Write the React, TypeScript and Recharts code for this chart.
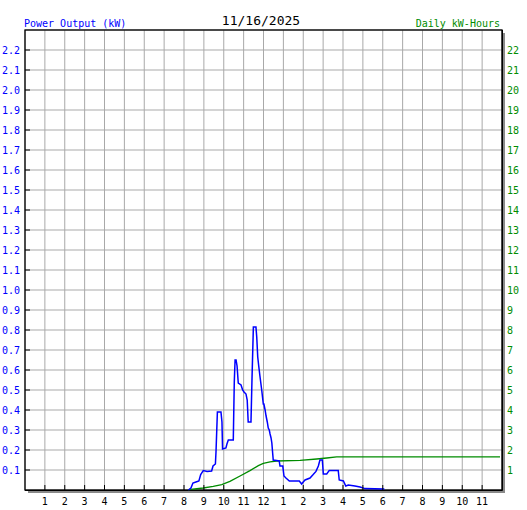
import React from "react"
import { LineChart, Line, XAxis, YAxis, CartesianGrid, ReferenceArea } from "recharts"

// power output (kW) samples, hour of day
const powerHours = [
  8.22, 8.35, 8.45, 8.6, 8.75, 8.84, 8.97, 9.16, 9.39, 9.46, 9.58, 9.61, 9.68, 9.86, 9.91,
  9.94, 10.11, 10.16, 10.23, 10.48, 10.53, 10.57, 10.62, 10.67, 10.73, 10.87, 10.95, 11.02,
  11.12, 11.18, 11.23, 11.37, 11.42, 11.49, 11.62, 11.66, 11.71, 11.76, 11.82, 11.91, 11.99,
  12.02, 12.08, 12.13, 12.19, 12.24, 12.29, 12.33, 12.38, 12.42, 12.46, 12.49, 12.79, 12.83,
  12.97, 13.03, 13.13, 13.3, 13.8, 13.92, 14.0, 14.09, 14.34, 14.5, 14.64, 14.76, 14.84,
  14.96, 15.01, 15.18, 15.31, 15.76, 15.81, 16.02, 16.14, 16.27, 16.6, 16.86, 17.11, 18.08,
]
const powerKw = [
  0, 0.01, 0.035, 0.04, 0.045, 0.077, 0.097, 0.093, 0.095, 0.12, 0.13, 0.19, 0.39, 0.39, 0.34,
  0.205, 0.21, 0.23, 0.25, 0.25, 0.54, 0.65, 0.65, 0.62, 0.535, 0.525, 0.5, 0.49,
  0.48, 0.45, 0.34, 0.34, 0.55, 0.815, 0.815, 0.765, 0.665, 0.62, 0.57, 0.5, 0.43,
  0.43, 0.4, 0.37, 0.34, 0.31, 0.3, 0.28, 0.26, 0.235, 0.185, 0.15, 0.145, 0.12,
  0.12, 0.07, 0.06, 0.045, 0.045, 0.03, 0.04, 0.05, 0.06, 0.077, 0.093, 0.12, 0.15,
  0.15, 0.08, 0.08, 0.098, 0.098, 0.05, 0.045, 0.02, 0.025, 0.02, 0.015, 0.007, 0.005,
]

// cumulative daily energy (kWh)
const energyHours = [8.22, 8.97, 9.47, 9.9, 10.31, 10.82, 11.32, 11.74, 11.99, 12.33, 12.66, 13.84, 14.68, 15.18, 15.68, 23.9]
const energyKwh = [0.02, 0.1, 0.18, 0.27, 0.43, 0.7, 0.97, 1.22, 1.33, 1.41, 1.45, 1.48, 1.55, 1.6, 1.66, 1.66]

const hourTicks = [1, 2, 3, 4, 5, 6, 7, 8, 9, 10, 11, 12, 13, 14, 15, 16, 17, 18, 19, 20, 21, 22, 23]
const hourLabels = ["1", "2", "3", "4", "5", "6", "7", "8", "9", "10", "11", "12", "1", "2", "3", "4", "5", "6", "7", "8", "9", "10", "11"]
const kwTicks = [0.1, 0.2, 0.3, 0.4, 0.5, 0.6, 0.7, 0.8, 0.9, 1.0, 1.1, 1.2, 1.3, 1.4, 1.5, 1.6, 1.7, 1.8, 1.9, 2.0, 2.1, 2.2]
const kwhTicks = [1, 2, 3, 4, 5, 6, 7, 8, 9, 10, 11, 12, 13, 14, 15, 16, 17, 18, 19, 20, 21, 22]

const FONT = "'DejaVu Sans Mono', 'Liberation Mono', monospace"
const BLUE = "#0000ff"
const GREEN = "#008c00"

// merge both series into one table keyed by hour
const rows: Record<string, { h: number; kw?: number; kwh?: number }> = {}
powerHours.forEach((h, i) => {
  rows[h] = { ...(rows[h] || { h }), kw: powerKw[i] }
})
energyHours.forEach((h, i) => {
  rows[h] = { ...(rows[h] || { h }), kwh: energyKwh[i] }
})
const data = Object.values(rows).sort((a, b) => a.h - b.h)

const HourTick = (props: any) => {
  const { x, y, payload } = props
  const label = hourLabels[hourTicks.indexOf(payload.value)]
  return (
    <g>
      <line x1={x} x2={x} y1={y - 20} y2={y - 15} stroke="#000" strokeWidth={1} />
      <text x={x} y={y} textAnchor="middle" fill="#000" fontSize={10} fontFamily={FONT}>
        {label}
      </text>
    </g>
  )
}

const KwTick = (props: any) => {
  const { x, y, payload } = props
  return (
    <g>
      <line x1={x + 5} x2={x + 10} y1={y} y2={y} stroke="#000" strokeWidth={1} />
      <text x={x} y={y} dy="0.355em" textAnchor="end" fill={BLUE} fontSize={10} fontFamily={FONT}>
        {Number(payload.value).toFixed(1)}
      </text>
    </g>
  )
}

const KwhTick = (props: any) => {
  const { x, y, payload } = props
  return (
    <text x={x} y={y} dy="0.355em" textAnchor="start" fill={GREEN} fontSize={10} fontFamily={FONT}>
      {payload.value}
    </text>
  )
}

// plot frame with the small drop shadow on right/bottom
const Frame = (props: any) => {
  const { x, y, width, height } = props
  return (
    <g>
      <polyline
        points={`${x + width + 2},${y + 3} ${x + width + 2},${y + height + 2} ${x + 3},${y + height + 2}`}
        fill="none"
        stroke="#8a8a8a"
        strokeWidth={2}
      />
      <rect x={x} y={y} width={width} height={height} fill="none" stroke="#000" strokeWidth={1.3} />
      <polyline
        points={`${x + width + 0.5},${y} ${x + width + 0.5},${y + height + 0.5} ${x},${y + height + 0.5}`}
        fill="none"
        stroke="#000"
        strokeWidth={1}
      />
    </g>
  )
}

export default function App() {
  return (
    <div style={{ position: "absolute", left: 0, top: 0, width: 527, height: 510, background: "#fff" }}>
      <LineChart width={527} height={510} data={data} margin={{ top: 30, right: 0, bottom: 0, left: 0 }}>
        <CartesianGrid yAxisId="left" stroke="#a9a9a9" strokeWidth={1} />
        <XAxis
          dataKey="h"
          type="number"
          domain={[0, 24]}
          ticks={hourTicks}
          interval={0}
          height={20}
          axisLine={false}
          tickLine={false}
          tickSize={0}
          tickMargin={15}
          tick={<HourTick />}
        />
        <YAxis
          yAxisId="left"
          orientation="left"
          domain={[0, 2.3]}
          ticks={kwTicks}
          interval={0}
          width={25}
          axisLine={false}
          tickLine={false}
          tickSize={0}
          tickMargin={5}
          tick={<KwTick />}
        />
        <YAxis
          yAxisId="right"
          orientation="right"
          domain={[0, 23]}
          ticks={kwhTicks}
          interval={0}
          width={25}
          axisLine={false}
          tickLine={false}
          tickSize={0}
          tickMargin={5}
          tick={<KwhTick />}
        />
        <Line
          yAxisId="right"
          dataKey="kwh"
          type="linear"
          stroke={GREEN}
          strokeWidth={1.3}
          dot={false}
          connectNulls
          isAnimationActive={false}
        />
        <Line
          yAxisId="left"
          dataKey="kw"
          type="linear"
          stroke={BLUE}
          strokeWidth={1.5}
          dot={false}
          connectNulls
          isAnimationActive={false}
        />
        <ReferenceArea yAxisId="left" x1={0} x2={24} y1={0} y2={2.3} shape={<Frame />} />
      </LineChart>
      <svg width={527} height={30} style={{ position: "absolute", left: 0, top: 0 }}>
        <text x={24} y={27} fill={BLUE} fontSize={10} fontFamily={FONT}>
          Power Output (kW)
        </text>
        <text x={261} y={25} textAnchor="middle" fill="#000" fontSize={13} fontFamily={FONT}>
          11/16/2025
        </text>
        <text x={500} y={27} textAnchor="end" fill={GREEN} fontSize={10} fontFamily={FONT}>
          Daily kW-Hours
        </text>
      </svg>
    </div>
  )
}
